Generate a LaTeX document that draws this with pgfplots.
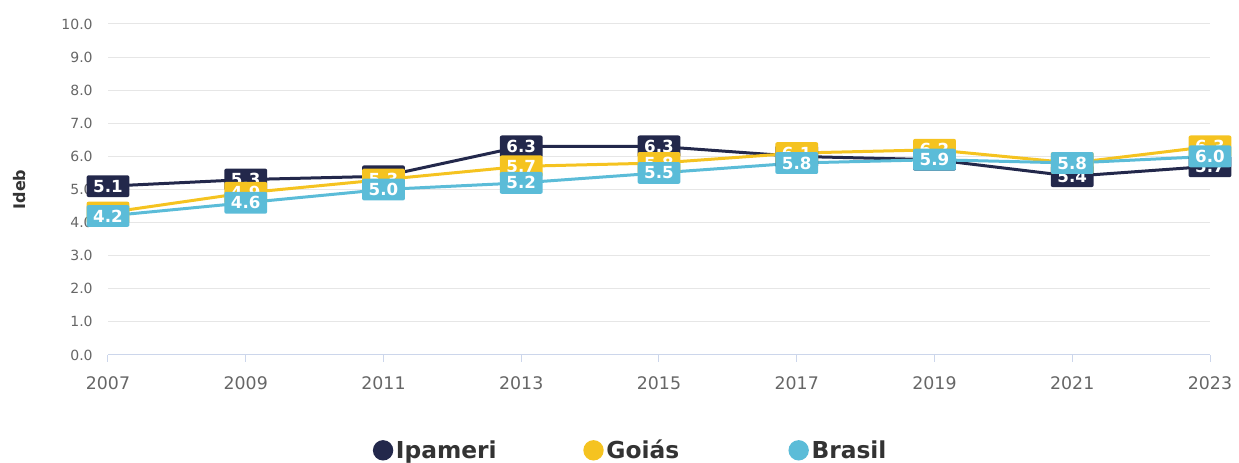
\documentclass[border=0pt]{standalone}
\usepackage{fontspec}
\setmainfont{DejaVu Sans}
\usepackage{pgfplots}
\usepackage{pgfplotstable}
\pgfplotsset{compat=1.18}
\definecolor{cIpa}{HTML}{23284B}
\definecolor{cGo}{HTML}{F5C320}
\definecolor{cBr}{HTML}{5BBCD8}
\definecolor{gridc}{HTML}{E6E6E6}
\definecolor{axc}{HTML}{CCD6EB}
\definecolor{txt}{HTML}{666666}
\definecolor{lab}{HTML}{333333}

\pgfplotstableread{
year ipa go br
2007 5.1 4.3 4.2
2009 5.3 4.9 4.6
2011 5.4 5.3 5.0
2013 6.3 5.7 5.2
2015 6.3 5.8 5.5
2017 6.0 6.1 5.8
2019 5.9 6.2 5.9
2021 5.4 5.8 5.8
2023 5.7 6.3 6.0
}\data

\pgfplotsset{
  lbl/.style={draw=none, forget plot, only marks, mark=*, mark size=0pt,
    mark options={draw=none,fill=none},
    nodes near coords={\pgfmathprintnumber[fixed,fixed zerofill,precision=1]{\pgfplotspointmeta}},
    nodes near coords align=center,
    every node near coord/.style={anchor=center, fill=#1, text=white,
      font=\fontsize{12.5}{12.5}\selectfont\bfseries, rounded corners=1.5pt,
      inner xsep=5pt, inner ysep=3.5pt}},
}

\begin{document}
\begin{tikzpicture}[x=1pt,y=1pt]
\useasboundingbox (-81,-81) rectangle (848.25,266.25);
\begin{axis}[
  at={(0,0)}, anchor=south west,
  scale only axis, width=826.5pt, height=248.25pt,
  xmin=2007, xmax=2023, ymin=0, ymax=10,
  xtick={2007,2009,...,2023}, ytick={0,1,...,10},
  axis lines*=left,
  y axis line style={draw=none},
  x axis line style={axc, line width=0.75pt},
  tick align=outside,
  xtick style={axc, line width=0.75pt},
  major tick length=5pt,
  ytick style={draw=none},
  ymajorgrids, grid style={gridc, line width=0.75pt},
  /pgf/number format/assume math mode=true,
  xticklabel style={font=\fontsize{13}{13}\selectfont, text=txt, yshift=-8pt, /pgf/number format/1000 sep={}},
  yticklabel style={font=\fontsize{10.5}{10.5}\selectfont, text=txt, xshift=-3pt,
    /pgf/number format/.cd, fixed, fixed zerofill, precision=1},
  ylabel={\bfseries Ideb},
  every axis y label/.style={at={(axis description cs:-0.0799,0.5)}, rotate=90, anchor=center,
    font=\fontsize{12}{12}\selectfont, text=lab},
  legend style={at={(axis description cs:0.4746,-0.288)}, anchor=center, draw=none, fill=none,
    legend columns=3, font=\fontsize{17.5}{17.5}\selectfont\bfseries, text=lab,
    /tikz/column 2/.style={column sep=63pt},
    /tikz/column 4/.style={column sep=80pt}},
  legend image code/.code={\fill[#1] (0.25em,0) circle (6.5pt);},
]
\addplot[color=cIpa, line width=2.25pt, mark=none] table[x=year,y=ipa] {\data};
\addlegendentry{Ipameri}
\addplot[color=cGo, line width=2.25pt, mark=none] table[x=year,y=go] {\data};
\addlegendentry{Goiás}
\addplot[color=cBr, line width=2.25pt, mark=none] table[x=year,y=br] {\data};
\addlegendentry{Brasil}
\addplot[lbl=cIpa] table[x=year,y=ipa,meta=ipa] {\data};
\addplot[lbl=cGo] table[x=year,y=go,meta=go] {\data};
\addplot[lbl=cBr] table[x=year,y=br,meta=br] {\data};
\end{axis}
\end{tikzpicture}
\end{document}
